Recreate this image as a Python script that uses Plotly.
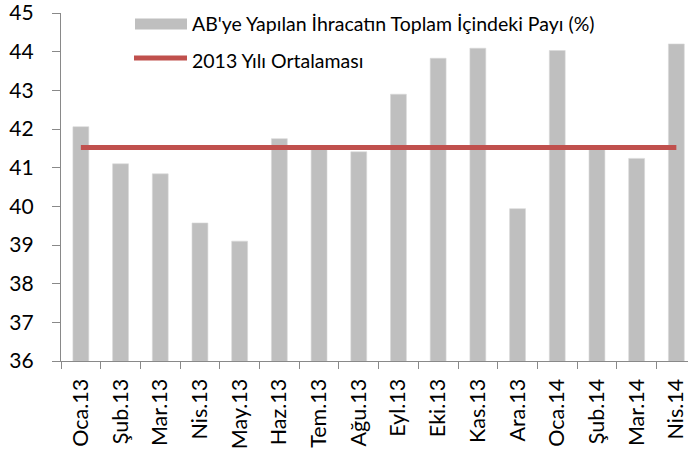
import plotly.graph_objects as go

# ── data ──────────────────────────────────────────────────────────────────────
MONTHS = [
    "Oca.13", "Şub.13", "Mar.13", "Nis.13", "May.13", "Haz.13", "Tem.13", "Ağu.13",
    "Eyl.13", "Eki.13", "Kas.13", "Ara.13", "Oca.14", "Şub.14", "Mar.14", "Nis.14",
]
EU_SHARE = [
    42.06, 41.10, 40.84, 39.57, 39.10, 41.75, 41.57, 41.41,
    42.90, 43.83, 44.09, 39.94, 44.03, 41.57, 41.24, 44.20,
]
AVG_2013 = 41.52

BAR_NAME = "AB'ye Yapılan İhracatın Toplam İçindeki Payı (%)"
LINE_NAME = "2013 Yılı Ortalaması"

BAR_COLOR = "#BFBFBF"
LINE_COLOR = "#C0504D"
AXIS_COLOR = "#898989"
FONT = "Lato, sans-serif"

W, H = 688, 463
# wanted plot area on screen (the body margin is removed below)
SL, ST, SR, SB = 61, 13, 688, 361
PW, PH = SR - SL, SB - ST


def px_x(px):
    return (px - SL) / PW


def px_y(py):
    return (SB - py) / PH


fig = go.Figure()
fig.add_trace(go.Bar(
    x=MONTHS, y=EU_SHARE, name=BAR_NAME,
    marker=dict(color=BAR_COLOR, line=dict(color="#D9D9D9", width=0.6)),
    width=0.4, showlegend=False,
))
fig.add_trace(go.Scatter(
    x=MONTHS, y=[AVG_2013] * len(MONTHS), name=LINE_NAME, mode="lines",
    line=dict(color=LINE_COLOR, width=5), showlegend=False,
))

# legend drawn by hand so the swatches are wide like the original
fig.add_shape(type="rect", xref="paper", yref="paper",
              x0=px_x(135), x1=px_x(187), y0=px_y(29.5), y1=px_y(18.5),
              fillcolor=BAR_COLOR, line=dict(width=0))
fig.add_shape(type="line", xref="paper", yref="paper",
              x0=px_x(134), x1=px_x(187), y0=px_y(58), y1=px_y(58),
              line=dict(color=LINE_COLOR, width=5))
for label, py in [(BAR_NAME, 23), (LINE_NAME, 60)]:
    fig.add_annotation(xref="paper", yref="paper", x=px_x(190), y=px_y(py),
                       xanchor="left", yanchor="middle", showarrow=False,
                       text=label, font=dict(size=19.5, color="black", family=FONT))

fig.update_layout(
    width=W, height=H,
    margin=dict(l=SL, r=W - SR, t=ST, b=H - SB),
    plot_bgcolor="white", paper_bgcolor="white",
    font=dict(family=FONT, color="black"),
    xaxis=dict(
        type="category", range=[-0.5, -0.5 + PW / 39.7],
        showline=True, linecolor=AXIS_COLOR, linewidth=1.3,
        ticks="outside", tickson="boundaries", ticklen=7, tickcolor=AXIS_COLOR,
        tickangle=-90, tickfont=dict(size=21.5), ticklabelstandoff=8,
        ticklabeloverflow="allow",
        showgrid=False, automargin=False,
    ),
    yaxis=dict(
        range=[36, 45], dtick=1,
        showline=True, linecolor=AXIS_COLOR, linewidth=1.3,
        ticks="outside", ticklen=8, tickcolor=AXIS_COLOR,
        tickfont=dict(size=21), ticklabelstandoff=14,
        ticklabeloverflow="allow",
        showgrid=False, zeroline=False, automargin=False,
    ),
)

fig.write_html(
    "out.html",
    config={"displayModeBar": False},
    post_script="document.body.style.margin = '0';",
)
